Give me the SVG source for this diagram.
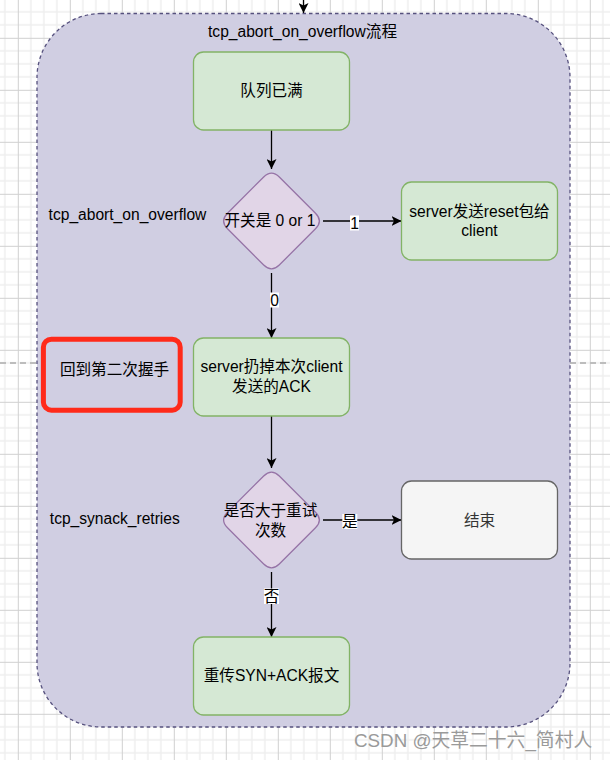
<svg xmlns="http://www.w3.org/2000/svg" width="610" height="760" viewBox="0 0 610 760">
<style>
.t{font-family:"Liberation Sans","Noto Sans CJK SC",sans-serif;font-size:15.6px;fill:#000;}
.c{text-anchor:middle;}
.green{fill:#d5e8d4;stroke:#82b366;stroke-width:1.3;}
.purple{fill:#e1d5e7;stroke:#9673a6;stroke-width:1.3;}
.grey{fill:#f5f5f5;stroke:#666666;stroke-width:1.3;}
.edge{stroke:#000;stroke-width:1.3;fill:none;marker-end:url(#arr);}
.lbl{fill:#fff;}
</style>
<defs>
<pattern id="grid" patternUnits="userSpaceOnUse" x="17.8" y="37.8" width="52" height="52">
<rect x="12.3" y="0" width="1.5" height="52" fill="#eeeeee"/>
<rect x="25.3" y="0" width="1.5" height="52" fill="#eeeeee"/>
<rect x="38.3" y="0" width="1.5" height="52" fill="#eeeeee"/>
<rect x="0" y="12.3" width="52" height="1.5" fill="#eeeeee"/>
<rect x="0" y="25.3" width="52" height="1.5" fill="#eeeeee"/>
<rect x="0" y="38.3" width="52" height="1.5" fill="#eeeeee"/>
<rect x="0" y="0" width="1" height="52" fill="#d0d0d0"/>
<rect x="0" y="0" width="52" height="1" fill="#d0d0d0"/>
</pattern>
<marker id="arr" viewBox="0 0 10 10" refX="10" refY="5" markerWidth="10" markerHeight="10" markerUnits="userSpaceOnUse" orient="auto">
<path d="M0,0 L10,5 L0,10 L2.5,5 z" fill="#000"/>
</marker>
</defs>
<rect width="610" height="760" fill="#ffffff"/>
<rect width="610" height="760" fill="url(#grid)"/>
<line x1="0" y1="363" x2="610" y2="363" stroke="#bdbdbd" stroke-width="2" stroke-dasharray="6 4"/>

<g id="container">
<rect x="37" y="13.5" width="533" height="713.5" rx="64" ry="64" fill="#d0cee2" stroke="#56517e" stroke-width="1.3" stroke-dasharray="3.5 3"/>
<text class="t c" x="302.5" y="37">tcp_abort_on_overflow流程</text>
</g>

<g id="connectors">
<line class="edge" x1="303.5" y1="0" x2="303.5" y2="13"/>
<line class="edge" x1="271.5" y1="130" x2="271.5" y2="169"/>
<line class="edge" x1="323" y1="221" x2="401.5" y2="221"/>
<rect class="lbl" x="350" y="215.5" width="9" height="15"/>
<text class="t c" x="354.5" y="228.5">1</text>
<line class="edge" x1="271.5" y1="273" x2="271.5" y2="338"/>
<rect class="lbl" x="270" y="292.5" width="9" height="15"/>
<text class="t c" x="274.5" y="305.5">0</text>
<line class="edge" x1="271.5" y1="416" x2="271.5" y2="468"/>
<line class="edge" x1="323" y1="520" x2="401.5" y2="520"/>
<rect class="lbl" x="342.3" y="514" width="15" height="15"/>
<text class="t c" x="349.8" y="527">是</text>
<line class="edge" x1="271.5" y1="572" x2="271.5" y2="637"/>
<rect class="lbl" x="264" y="588.5" width="15" height="15.5"/>
<text class="t c" x="271.5" y="601.5">否</text>
</g>

<g id="n_full">
<rect class="green" x="193.5" y="52" width="156" height="78" rx="10"/>
<text class="t c" x="271.5" y="95.5">队列已满</text>
</g>

<g id="n_switch">
<path class="purple" d="M263.7,177 Q271.5,169.2 279.3,177 L315.5,213.2 Q323.3,221 315.5,228.8 L279.3,265 Q271.5,272.8 263.7,265 L227.5,228.8 Q219.7,221 227.5,213.2 Z"/>
<text class="t c" x="270" y="225.5">开关是 0 or 1</text>
</g>

<g id="lbl_overflow">
<text class="t" x="48.6" y="219.5">tcp_abort_on_overflow</text>
</g>

<g id="n_reset">
<rect class="green" x="401.5" y="182" width="156" height="78" rx="10"/>
<text class="t c" x="479.5" y="217">server发送reset包给</text>
<text class="t c" x="479.5" y="236">client</text>
</g>

<g id="n_back">
<rect x="43.4" y="339.2" width="136.8" height="71" rx="8" fill="none" stroke="#ff2a1a" stroke-width="5"/>
<text class="t c" x="114.5" y="375">回到第二次握手</text>
</g>

<g id="n_drop">
<rect class="green" x="193.5" y="338" width="156" height="78" rx="10"/>
<text class="t c" x="271.5" y="372">server扔掉本次client</text>
<text class="t c" x="271.5" y="392">发送的ACK</text>
</g>

<g id="n_retries">
<path class="purple" d="M263.7,476 Q271.5,468.2 279.3,476 L315.5,512.2 Q323.3,520 315.5,527.8 L279.3,564 Q271.5,571.8 263.7,564 L227.5,527.8 Q219.7,520 227.5,512.2 Z"/>
<text class="t c" x="270.5" y="515.5">是否大于重试</text>
<text class="t c" x="270.5" y="535.5">次数</text>
</g>

<g id="lbl_synack">
<text class="t" x="49.8" y="524">tcp_synack_retries</text>
</g>

<g id="n_end">
<rect class="grey" x="401.5" y="481" width="156" height="78" rx="10"/>
<text class="t c" x="479.5" y="525.5" style="fill:#333333">结束</text>
</g>

<g id="n_resend">
<rect class="green" x="193.5" y="637" width="156" height="78" rx="10"/>
<text class="t c" x="271.5" y="680.5">重传SYN+ACK报文</text>
</g>

<text x="354" y="746.5" style="font-family:'Liberation Sans','Noto Sans CJK SC',sans-serif;font-size:18.8px;fill:#9a9a9a">CSDN @天草二十六_简村人</text>
</svg>
